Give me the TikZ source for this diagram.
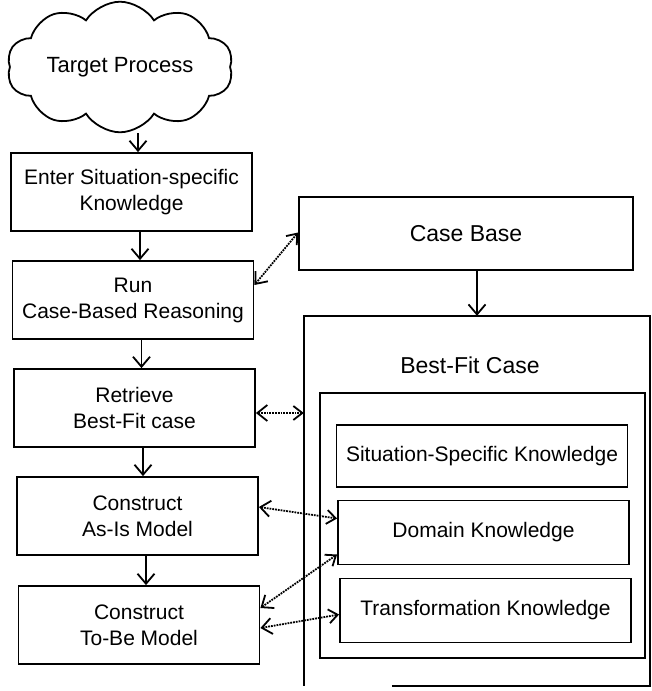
\documentclass[tikz,border=0pt]{standalone}
\usepackage{fontspec}
\setmainfont{Liberation Sans}
\usepackage{tikz}
\usetikzlibrary{shapes.symbols,arrows.meta}

\tikzset{
  stepbox/.style={draw,line width=1.8pt,minimum width=241pt,minimum height=78pt,
    align=center,font=\fontsize{21}{26}\selectfont},
  knowbox/.style={draw,line width=1.8pt,minimum width=291pt,minimum height=64pt,
    font=\fontsize{21}{26}\selectfont},
  flow/.style={line width=1.8pt,-{Straight Barb[length=10pt,width=17pt]}},
  link/.style={line width=1.8pt,densely dotted,
    {Straight Barb[length=10pt,width=16pt]}-{Straight Barb[length=9pt,width=14pt]}}
}

\begin{document}
\begin{tikzpicture}[x=1pt,y=-1pt]
\useasboundingbox (0,0) rectangle (651,691);
% process steps
\node[cloud,draw,line width=1.8pt,cloud puffs=10,cloud puff arc=115,aspect=2.2,
  minimum width=226pt,minimum height=100pt,font=\fontsize{22}{26}\selectfont]
  (target) at (120,67) {Target Process};
\node[stepbox] (enter) at (131.5,192) {Enter Situation-specific\\Knowledge};
\node[stepbox] (run) at (133,300) {Run\\Case-Based Reasoning};
\node[stepbox] (retrieve) at (134.5,408) {Retrieve\\Best-Fit case};
\node[stepbox] (asis) at (137.5,516) {Construct\\As-Is Model};
\node[stepbox] (tobe) at (139,625) {Construct\\To-Be Model};
\draw[flow] ([xshift=6.5pt]enter.north |- target.south) -- ([xshift=6.5pt]enter.north);
\draw[flow] ([xshift=8.5pt]enter.south) -- ([xshift=8.5pt]enter.south |- run.north);
\draw[flow] ([xshift=8.5pt]run.south) -- ([xshift=8.5pt]run.south |- retrieve.north);
\draw[flow] ([xshift=8.5pt]retrieve.south) -- ([xshift=8.5pt]retrieve.south |- asis.north);
\draw[flow] ([xshift=8.5pt]asis.south) -- ([xshift=8.5pt]asis.south |- tobe.north);
% case base and retrieved case
\node[draw,line width=1.8pt,minimum width=334pt,minimum height=73pt,
  font=\fontsize{23}{27}\selectfont] (casebase) at (466,233.5) {Case Base};
\node[minimum width=346pt,minimum height=370pt] (bestfit) at (477,501) {};
\draw[line width=1.8pt] ([xshift=88pt]bestfit.south west) -| (bestfit.north east)
  -| (bestfit.south west);
\node[font=\fontsize{23}{27}\selectfont] (bestfitlabel) at (470,365) {Best-Fit Case};
\node[draw,line width=1.8pt,minimum width=325pt,minimum height=265pt] (parts) at (482.5,525.5) {};
\node[knowbox,minimum height=62pt] (situation) at (482,456) {Situation-Specific Knowledge};
\node[knowbox] (domain) at (483.5,532.5) {Domain Knowledge};
\node[knowbox] (transform) at (485.5,610.5) {Transformation Knowledge};
\draw[flow] (casebase.south -| bestfit.north) -- (bestfit.north);
% dotted links
\draw[link] ([yshift=15pt]run.east) -- ([yshift=1pt]casebase.west);
\draw[link] ([yshift=-5pt]retrieve.east) -- ([yshift=-5pt]retrieve.east -| bestfit.west);
\draw[link] ([yshift=9pt]asis.east) -- ([yshift=14pt]domain.west);
\draw[link] ([yshift=17pt]tobe.east) -- ([yshift=-22pt]domain.west);
\draw[link] ([yshift=-3pt]tobe.east) -- ([yshift=-4pt]transform.west);
\end{tikzpicture}
\end{document}
